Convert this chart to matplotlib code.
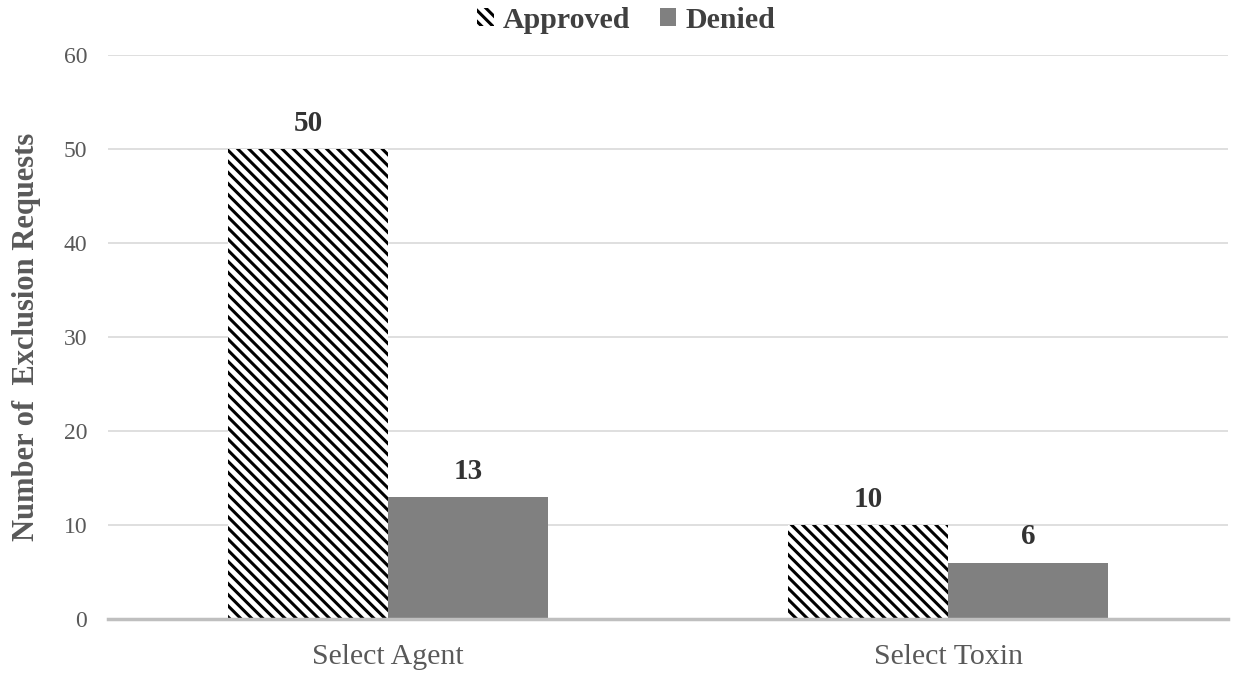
import matplotlib
matplotlib.use("Agg")
import matplotlib.pyplot as plt
import numpy as np

# data
categories = ["Select Agent", "Select Toxin"]
approved = [50, 10]
denied = [13, 6]
yticks = [0, 10, 20, 30, 40, 50, 60]

plt.rcParams["font.family"] = ["Liberation Serif", "DejaVu Serif"]
plt.rcParams["hatch.linewidth"] = 2.2
plt.rcParams["hatch.color"] = "black"

TXT = "#595959"
fig = plt.figure(figsize=(12.35, 6.73), dpi=100)
ax = fig.add_axes([0.0874, 0.0802, 0.907, 0.838])

x = np.arange(len(categories))
w = 0.285
b1 = ax.bar(x - w / 2, approved, w, facecolor="white", edgecolor="black",
            hatch="\\\\\\", linewidth=0, label="Approved", zorder=3)
b2 = ax.bar(x + w / 2, denied, w, color="#808080", label="Denied", zorder=3)

for bars, vals in ((b1, approved), (b2, denied)):
    for r, v in zip(bars, vals):
        ax.text(r.get_x() + r.get_width() / 2, v + 1.3, str(v), ha="center",
                va="bottom", fontsize=21, fontweight="bold", color="#333333")

ax.set_xlim(-0.5, 1.5)
ax.set_ylim(0, 60)
ax.set_yticks(yticks)
ax.set_xticks(x)
ax.set_xticklabels(categories)
ax.tick_params(axis="x", length=0, labelsize=21.5, colors=TXT, pad=18)
ax.tick_params(axis="y", length=0, labelsize=17, colors=TXT, pad=15)
ax.yaxis.grid(True, color="#d9d9d9", linewidth=1.2, zorder=0)
ax.set_axisbelow(True)
for s in ("top", "right", "left"):
    ax.spines[s].set_visible(False)
ax.spines["bottom"].set_color("#bfbfbf")
ax.spines["bottom"].set_linewidth(2.5)
ax.spines["bottom"].set_zorder(4)

ax.set_ylabel("Number of  Exclusion Requests", fontsize=22, fontweight="bold",
              color=TXT, labelpad=16)

leg = fig.legend(loc="upper center", bbox_to_anchor=(0.507, 1.03), ncol=2,
                 frameon=False, handlelength=0.55, handleheight=0.55,
                 handletextpad=0.3, columnspacing=1.0,
                 prop={"size": 21.5, "weight": "bold"})
for t in leg.get_texts():
    t.set_color("#404040")

fig.savefig("out.png", dpi=100)
